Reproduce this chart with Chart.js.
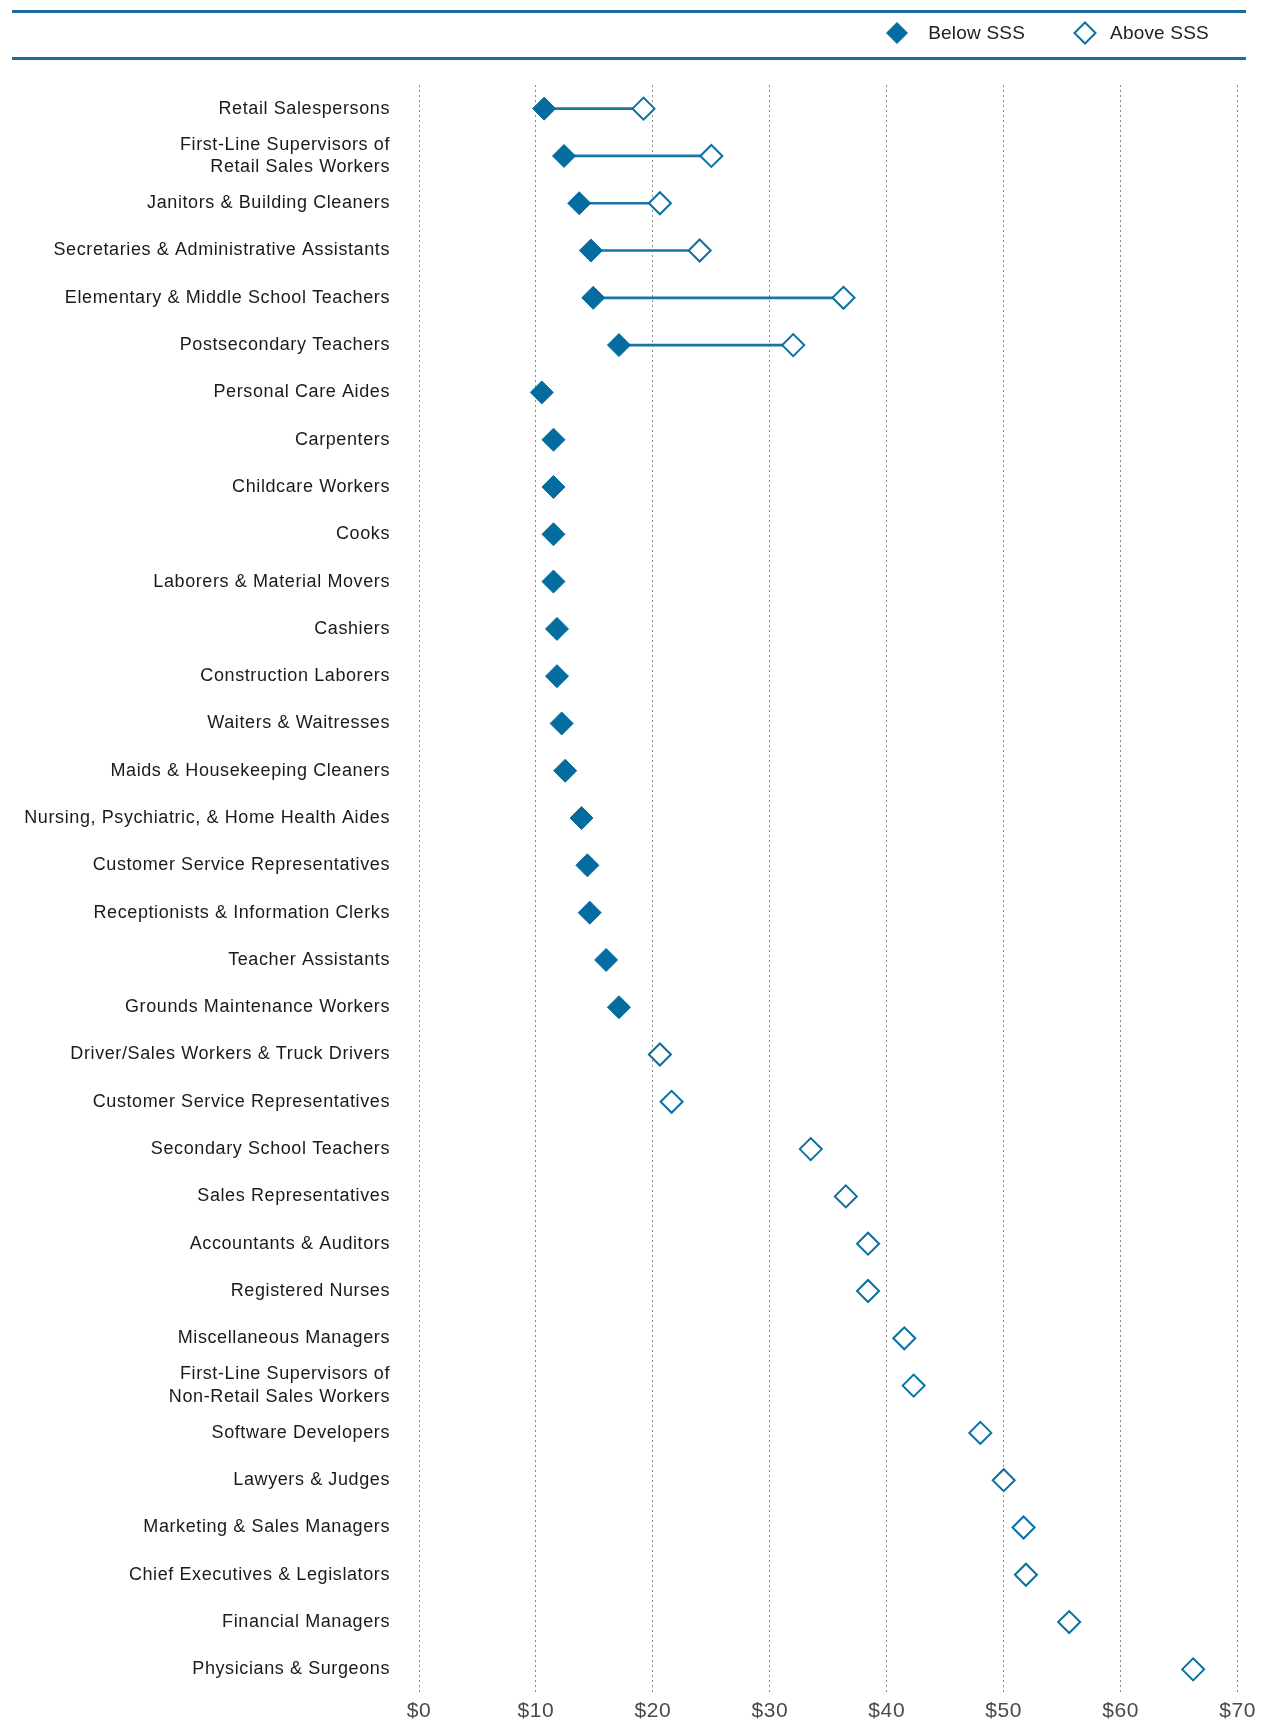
<!DOCTYPE html>
<html>
<head>
<meta charset="utf-8">
<script src="https://cdn.jsdelivr.net/npm/chart.js@4.4.1/dist/chart.umd.min.js"></script>
<style>
  html, body { margin: 0; padding: 0; background: #fff; }
  #wrap { position: relative; width: 1262px; height: 1723px; }
  #chart { position: absolute; left: 0; top: 0; }
  .rule { position: absolute; left: 12px; width: 1234px; height: 3px; background: #1a6c9b; }
  #legend {
    position: absolute; top: 11px; right: 53px; height: 44px;
    display: flex; align-items: center;
    font-family: 'Liberation Sans', Arial, sans-serif;
    font-size: 19px; letter-spacing: 0.2px; color: #222;
  }
  .item { display: flex; align-items: center; margin-left: 48px; }
  .item svg { margin-right: 19px; }
  .item:last-child svg { margin-right: 13px; }
</style>
</head>
<body>
<div id="wrap">
  <canvas id="chart" width="1262" height="1723"></canvas>
  <div class="rule" style="top:10px"></div>
  <div class="rule" style="top:57px"></div>
  <div id="legend"></div>
</div>
<script>
// 职业（从上到下）
const occupations = [
  'Retail Salespersons',
  ['First-Line Supervisors of', 'Retail Sales Workers'],
  'Janitors & Building Cleaners',
  'Secretaries & Administrative Assistants',
  'Elementary & Middle School Teachers',
  'Postsecondary Teachers',
  'Personal Care Aides',
  'Carpenters',
  'Childcare Workers',
  'Cooks',
  'Laborers & Material Movers',
  'Cashiers',
  'Construction Laborers',
  'Waiters & Waitresses',
  'Maids & Housekeeping Cleaners',
  'Nursing, Psychiatric, & Home Health Aides',
  'Customer Service Representatives',
  'Receptionists & Information Clerks',
  'Teacher Assistants',
  'Grounds Maintenance Workers',
  'Driver/Sales Workers & Truck Drivers',
  'Customer Service Representatives',
  'Secondary School Teachers',
  'Sales Representatives',
  'Accountants & Auditors',
  'Registered Nurses',
  'Miscellaneous Managers',
  ['First-Line Supervisors of', 'Non-Retail Sales Workers'],
  'Software Developers',
  'Lawyers & Judges',
  'Marketing & Sales Managers',
  'Chief Executives & Legislators',
  'Financial Managers',
  'Physicians & Surgeons'
];

// 时薪 (美元)
const belowSSS = [
  10.7, 12.4, 13.7, 14.7, 14.9, 17.1, 10.5, 11.5, 11.5, 11.5,
  11.5, 11.8, 11.8, 12.2, 12.5, 13.9, 14.4, 14.6, 16.0, 17.1,
  null, null, null, null, null, null, null, null, null, null,
  null, null, null, null
];
const aboveSSS = [
  19.2, 25.0, 20.6, 24.0, 36.3, 32.0, null, null, null, null,
  null, null, null, null, null, null, null, null, null, null,
  20.6, 21.6, 33.5, 36.5, 38.4, 38.4, 41.5, 42.3, 48.0, 50.0,
  51.7, 51.9, 55.6, 66.2
];

const xMin = 0;
const xMax = 70;
const xStep = 10;

const blue = '#046c9e';
const fontFamily = "'Liberation Sans', Arial, sans-serif";

// 连接线：两个值都有时画一条细条
const ranges = belowSSS.map((b, i) => (b != null && aboveSSS[i] != null) ? [b, aboveSSS[i]] : null);

// 字间距
const spacingPlugin = {
  id: 'spacing',
  beforeLayout(chart) { chart.ctx.letterSpacing = '0.6px'; },
  beforeDraw(chart) { chart.ctx.letterSpacing = '0.6px'; }
};

const ctx = document.getElementById('chart').getContext('2d');

const chart = new Chart(ctx, {
  type: 'bar',
  data: {
    labels: occupations,
    datasets: [
      {
        type: 'line',
        label: 'Below SSS',
        data: belowSSS,
        indexAxis: 'y',
        showLine: false,
        pointStyle: 'rectRot',
        pointRadius: 11.5,
        pointBorderWidth: 1,
        pointBackgroundColor: blue,
        pointBorderColor: blue,
        order: 1
      },
      {
        type: 'line',
        label: 'Above SSS',
        data: aboveSSS,
        indexAxis: 'y',
        showLine: false,
        pointStyle: 'rectRot',
        pointRadius: 11,
        pointBorderWidth: 2,
        pointBackgroundColor: '#fff',
        pointBorderColor: '#0a70a3',
        order: 0
      },
      {
        type: 'bar',
        label: 'range',
        data: ranges,
        indexAxis: 'y',
        barThickness: 2,
        backgroundColor: '#1a74a4',
        order: 2
      }
    ]
  },
  options: {
    indexAxis: 'y',
    responsive: false,
    animation: false,
    events: [],
    layout: { padding: { top: 85, right: 23, left: 0, bottom: 0 } },
    plugins: {
      legend: { display: false },
      tooltip: { enabled: false }
    },
    scales: {
      y: {
        type: 'category',
        offset: true,
        grid: { display: false, drawTicks: false },
        border: { display: false },
        ticks: {
          autoSkip: false,
          padding: 29,
          color: '#1a1a1a',
          font: { family: fontFamily, size: 18, lineHeight: 1.25 }
        },
        afterFit(scale) {
          scale.width = 419;
          scale.paddingTop = 0;
          scale.paddingBottom = 0;
        }
      },
      x: {
        type: 'linear',
        min: xMin,
        max: xMax,
        grid: { color: '#8a8a8a', lineWidth: 1, drawTicks: false },
        border: { display: false, dash: [2, 3] },
        ticks: {
          stepSize: xStep,
          padding: 6,
          color: '#4a4a4a',
          font: { family: fontFamily, size: 21 },
          callback: v => '$' + v
        },
        afterFit(scale) { scale.height = 30; }
      }
    }
  },
  plugins: [spacingPlugin]
});

// 图例
const legendEl = document.getElementById('legend');
chart.data.datasets.filter(ds => ds.type === 'line').forEach(ds => {
  const item = document.createElement('div');
  item.className = 'item';
  const fill = ds.pointBackgroundColor;
  const stroke = ds.pointBorderColor;
  const sw = ds.pointBorderWidth;
  item.innerHTML =
    '<svg width="24" height="24" viewBox="0 0 24 24">' +
    '<polygon points="12,1.5 22.5,12 12,22.5 1.5,12" fill="' + fill + '" stroke="' + stroke + '" stroke-width="' + sw + '"/>' +
    '</svg><span>' + ds.label + '</span>';
  legendEl.appendChild(item);
});
</script>
</body>
</html>
